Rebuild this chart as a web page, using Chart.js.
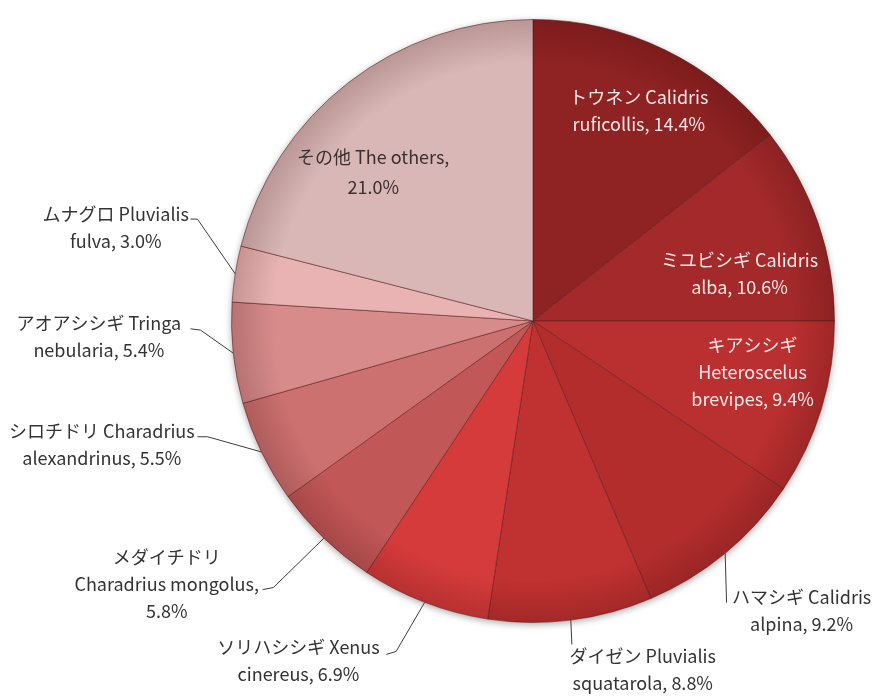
<!DOCTYPE html>
<html>
<head>
<meta charset="utf-8">
<script src="https://cdn.jsdelivr.net/npm/chart.js@4.4.0/dist/chart.umd.min.js"></script>
<style>
  html, body { margin: 0; padding: 0; background: #fff; }
  #wrap { width: 878px; height: 697px; }
</style>
</head>
<body>
<div id="wrap"><canvas id="shorebirdChart" width="878" height="697"></canvas></div>
<script>
// slices, clockwise from 12 o'clock
const jpNames = ['トウネン', 'ミユビシギ', 'キアシシギ', 'ハマシギ', 'ダイゼン', 'ソリハシシギ',
  'メダイチドリ', 'シロチドリ', 'アオアシシギ', 'ムナグロ', 'その他'];
const sciNames = ['Calidris ruficollis', 'Calidris alba', 'Heteroscelus brevipes', 'Calidris alpina',
  'Pluvialis squatarola', 'Xenus cinereus', 'Charadrius mongolus', 'Charadrius alexandrinus',
  'Tringa nebularia', 'Pluvialis fulva', 'The others'];
const shares = [14.4, 10.6, 9.4, 9.2, 8.8, 6.9, 5.8, 5.5, 5.4, 3.0, 21.0];

const sliceColors = ['#8f2222', '#a3292a', '#ba2f2f', '#b42d2d', '#c03131', '#d63b3b',
  '#c25757', '#cd7070', '#d78b8b', '#e9b3b3', '#dab7b7'];

// label layout: words per line, block centre and leader points in pie-radius units
const labelLayout = [
  { split: [2, 2], at: [0.351, -0.697], color: '#f7e6e6' },
  { split: [2, 2], at: [0.685, -0.156], color: '#f7e6e6' },
  { split: [1, 1, 2], at: [0.728, 0.171], color: '#f7e6e6' },
  { split: [2, 2], at: [0.891, 0.960], leader: [[0.642, 0.934]] },
  { split: [2, 2], at: [0.364, 1.157], leader: [[0.129, 1.073]] },
  { split: [2, 2], at: [-0.778, 1.127], leader: [[-0.454, 1.096], [-0.487, 1.106]] },
  { split: [1, 2, 1], at: [-1.215, 0.874], leader: [[-0.861, 0.884], [-0.897, 0.891]] },
  { split: [2, 2], at: [-1.430, 0.409], leader: [[-1.079, 0.384], [-1.113, 0.384]] },
  { split: [2, 2], at: [-1.440, 0.051], leader: [[-1.103, 0.030], [-1.136, 0.026]] },
  { split: [2, 2], at: [-1.384, -0.308], leader: [[-1.113, -0.338], [-1.136, -0.338]] },
  { split: [3, 1], at: [-0.530, -0.495], color: '#3a3030', lh: 30 }
];

function labelLines(i) {
  const words = [jpNames[i], ...sciNames[i].split(' ')];
  words[words.length - 1] += ',';
  words.push(shares[i].toFixed(1) + '%');
  const lines = [];
  let k = 0;
  labelLayout[i].split.forEach(n => {
    lines.push(words.slice(k, k + n).join(' '));
    k += n;
  });
  return lines;
}

const pieDecor = {
  id: 'pieDecor',
  beforeDatasetsDraw(chart) {
    const a = chart.getDatasetMeta(0).data[0];
    const ctx = chart.ctx;
    ctx.save();
    ctx.shadowColor = 'rgba(0,0,0,0.35)';
    ctx.shadowBlur = 7;
    ctx.shadowOffsetY = 2;
    ctx.beginPath();
    ctx.arc(a.x, a.y, a.outerRadius, 0, Math.PI * 2);
    ctx.fillStyle = '#fff';
    ctx.fill();
    ctx.restore();
  },
  afterDatasetsDraw(chart) {
    const meta = chart.getDatasetMeta(0);
    const ctx = chart.ctx;
    const a0 = meta.data[0];
    const cx = a0.x, cy = a0.y, R = a0.outerRadius;

    // rim shading
    ctx.save();
    const g = ctx.createRadialGradient(cx, cy, R * 0.86, cx, cy, R);
    g.addColorStop(0, 'rgba(40,0,0,0)');
    g.addColorStop(1, 'rgba(40,0,0,0.18)');
    ctx.beginPath();
    ctx.arc(cx, cy, R, 0, Math.PI * 2);
    ctx.fillStyle = g;
    ctx.fill();
    ctx.restore();

    ctx.save();
    ctx.font = '18px "Noto Sans CJK JP", "Noto Sans", sans-serif';
    ctx.textAlign = 'center';
    ctx.textBaseline = 'middle';
    meta.data.forEach((arc, i) => {
      const lay = labelLayout[i];
      const lines = labelLines(i);
      const lh = lay.lh || 27;
      const bx = cx + lay.at[0] * R;
      const by = cy + lay.at[1] * R;

      if (lay.leader) {
        const mid = (arc.startAngle + arc.endAngle) / 2;
        ctx.beginPath();
        ctx.moveTo(cx + Math.cos(mid) * R, cy + Math.sin(mid) * R);
        lay.leader.forEach(p => ctx.lineTo(cx + p[0] * R, cy + p[1] * R));
        ctx.strokeStyle = '#3c3c3c';
        ctx.lineWidth = 1;
        ctx.stroke();
      }

      ctx.fillStyle = lay.color || '#333333';
      lines.forEach((t, j) => {
        ctx.fillText(t, bx, by + (j - (lines.length - 1) / 2) * lh);
      });
    });
    ctx.restore();
  }
};

new Chart(document.getElementById('shorebirdChart'), {
  type: 'pie',
  data: {
    labels: jpNames,
    datasets: [{
      data: shares,
      backgroundColor: sliceColors,
      borderColor: 'rgba(90,25,25,0.55)',
      borderWidth: 1
    }]
  },
  options: {
    responsive: false,
    animation: false,
    layout: { padding: { left: 231, right: 43, top: 19, bottom: 74 } },
    plugins: {
      legend: { display: false },
      tooltip: { enabled: false }
    }
  },
  plugins: [pieDecor]
});
</script>
</body>
</html>
